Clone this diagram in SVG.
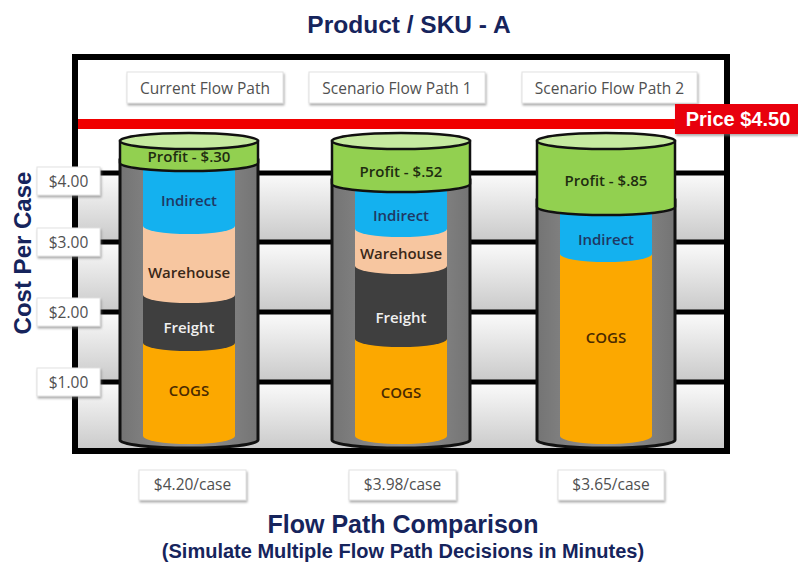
<svg xmlns="http://www.w3.org/2000/svg" width="798" height="567" viewBox="0 0 798 567">
<defs>
  <linearGradient id="band" x1="0" y1="0" x2="0" y2="1">
    <stop offset="0" stop-color="#fbfbfb"/>
    <stop offset="1" stop-color="#c9c9c9"/>
  </linearGradient>
  <linearGradient id="shell" x1="0" y1="0" x2="1" y2="0">
    <stop offset="0" stop-color="#747474"/>
    <stop offset="0.5" stop-color="#949494"/>
    <stop offset="1" stop-color="#747474"/>
  </linearGradient>
  <filter id="sh" x="-10%" y="-20%" width="125%" height="160%">
    <feDropShadow dx="1" dy="2" stdDeviation="1.2" flood-color="#777" flood-opacity="0.6"/>
  </filter>
  <style>
    .title{font-family:"Liberation Sans",Arial,sans-serif;font-weight:bold;fill:#16245c}
    .box{fill:#fff;stroke:#e2e2e2;stroke-width:1;filter:url(#sh)}
    .lbl{font-family:"Open Sans","DejaVu Sans",sans-serif;font-size:15.5px;fill:#505050;text-anchor:middle;dominant-baseline:central}
    .grid{stroke:#000;stroke-width:5}
    .shell{fill:url(#shell);stroke:#111;stroke-width:3}
    .cap{fill:#92d050;stroke:#111;stroke-width:2.5}
    .captop{fill:#c6eaa0;stroke:#111;stroke-width:2.5}
    .in{fill:#14b1ef}.wh{fill:#f7c6a0}.fr{fill:#3f3f3f}.cg{fill:#fca800}
    .t{font-family:"Open Sans","DejaVu Sans",sans-serif;font-size:15px;font-weight:600;text-anchor:middle;dominant-baseline:central}
    .tp{fill:#1f2d10}.ti{fill:#1f3864}.tw{fill:#3a2818}.tf{fill:#f0f0f0}.tc{fill:#4a2a00}
  </style>
</defs>
<rect width="798" height="567" fill="#fff"/>
<text class="title" x="409" y="33" font-size="24.5" text-anchor="middle">Product / SKU - A</text>

<g id="chart-bg">
  <rect x="78" y="60" width="646" height="113" fill="#fff"/>
  <rect x="78" y="173" width="646" height="69" fill="url(#band)"/>
  <rect x="78" y="242" width="646" height="70" fill="url(#band)"/>
  <rect x="78" y="312" width="646" height="70" fill="url(#band)"/>
  <rect x="78" y="382" width="646" height="69" fill="url(#band)"/>
</g>
<g id="gridlines">
  <line class="grid" x1="75" y1="173" x2="727" y2="173"/>
  <line class="grid" x1="75" y1="242" x2="727" y2="242"/>
  <line class="grid" x1="75" y1="312" x2="727" y2="312"/>
  <line class="grid" x1="75" y1="382" x2="727" y2="382"/>
  <rect x="75" y="57" width="652" height="394" fill="none" stroke="#000" stroke-width="6"/>
</g>
<rect id="price-line" x="78" y="119" width="600" height="10" fill="#f00000"/>

<g id="hdr1"><rect class="box" x="127" y="72" width="156" height="31"/><text class="lbl" x="205" y="87.5">Current Flow Path</text></g>
<g id="hdr2"><rect class="box" x="309" y="72" width="176" height="31"/><text class="lbl" x="397" y="87.5">Scenario Flow Path 1</text></g>
<g id="hdr3"><rect class="box" x="522" y="72" width="175" height="31"/><text class="lbl" x="609.5" y="87.5">Scenario Flow Path 2</text></g>

<g id="cyl1">
  <path class="shell" d="M120,160 V440 A69 8 0 0 0 258,440 V160 Z"/>
  <path class="cg" d="M143,340 H235 V436 A46 8 0 0 1 143,436 Z"/>
  <path class="fr" d="M143,295 H235 V343 A46 8 0 0 1 143,343 Z"/>
  <path class="wh" d="M143,225 H235 V295 A46 8 0 0 1 143,295 Z"/>
  <path class="in" d="M143,160 H235 V226 A46 8 0 0 1 143,226 Z"/>
  <path class="cap" d="M120,141 V163 A69 8 0 0 0 258,163 V141 Z"/>
  <ellipse class="captop" cx="189" cy="141" rx="69" ry="8"/>
  <text class="t tp" x="189" y="156">Profit - $.30</text>
  <text class="t ti" x="189" y="200">Indirect</text>
  <text class="t tw" x="189" y="272">Warehouse</text>
  <text class="t tf" x="189" y="327">Freight</text>
  <text class="t tc" x="189" y="390">COGS</text>
</g>
<g id="cyl2">
  <path class="shell" d="M332,180 V440 A69 8 0 0 0 470,440 V180 Z"/>
  <path class="cg" d="M355,335 H447 V436 A46 8 0 0 1 355,436 Z"/>
  <path class="fr" d="M355,262 H447 V339 A46 8 0 0 1 355,339 Z"/>
  <path class="wh" d="M355,225 H447 V266 A46 8 0 0 1 355,266 Z"/>
  <path class="in" d="M355,180 H447 V229 A46 8 0 0 1 355,229 Z"/>
  <path class="cap" d="M332,141 V184 A69 8 0 0 0 470,184 V141 Z"/>
  <ellipse class="captop" cx="401" cy="141" rx="69" ry="8"/>
  <text class="t tp" x="401" y="171">Profit - $.52</text>
  <text class="t ti" x="401" y="215">Indirect</text>
  <text class="t tw" x="401" y="253">Warehouse</text>
  <text class="t tf" x="401" y="317">Freight</text>
  <text class="t tc" x="401" y="392">COGS</text>
</g>
<g id="cyl3">
  <path class="shell" d="M537,200 V440 A69 8 0 0 0 675,440 V200 Z"/>
  <path class="cg" d="M560,250 H652 V436 A46 8 0 0 1 560,436 Z"/>
  <path class="in" d="M560,200 H652 V254 A46 8 0 0 1 560,254 Z"/>
  <path class="cap" d="M537,141 V207 A69 8 0 0 0 675,207 V141 Z"/>
  <ellipse class="captop" cx="606" cy="141" rx="69" ry="8"/>
  <text class="t tp" x="606" y="180">Profit - $.85</text>
  <text class="t ti" x="606" y="239">Indirect</text>
  <text class="t tc" x="606" y="337">COGS</text>
</g>

<g id="axis-labels">
  <g id="y4"><rect class="box" x="37" y="167" width="63" height="28"/><text class="lbl" x="68.5" y="181">$4.00</text></g>
  <g id="y3"><rect class="box" x="37" y="228" width="63" height="28"/><text class="lbl" x="68.5" y="242">$3.00</text></g>
  <g id="y2"><rect class="box" x="37" y="298" width="63" height="28"/><text class="lbl" x="68.5" y="312">$2.00</text></g>
  <g id="y1"><rect class="box" x="37" y="368" width="63" height="28"/><text class="lbl" x="68.5" y="382">$1.00</text></g>
</g>
<text class="title" transform="translate(31,253) rotate(-90)" font-size="24" text-anchor="middle">Cost Per Case</text>

<g id="price-tag">
  <rect x="675" y="104" width="123" height="30" fill="#e8000f" filter="url(#sh)"/>
  <text x="738" y="126" font-family="Liberation Sans,Arial,sans-serif" font-weight="bold" font-size="20" fill="#fff" text-anchor="middle">Price $4.50</text>
</g>

<g id="cost1"><rect class="box" x="139" y="470" width="107" height="30"/><text class="lbl" x="192.5" y="484">$4.20/case</text></g>
<g id="cost2"><rect class="box" x="349" y="470" width="107" height="30"/><text class="lbl" x="402.5" y="484">$3.98/case</text></g>
<g id="cost3"><rect class="box" x="558" y="470" width="106" height="30"/><text class="lbl" x="611" y="484">$3.65/case</text></g>

<text class="title" x="403" y="533" font-size="25" text-anchor="middle">Flow Path Comparison</text>
<text class="title" x="403" y="558" font-size="20" text-anchor="middle">(Simulate Multiple Flow Path Decisions in Minutes)</text>
</svg>
